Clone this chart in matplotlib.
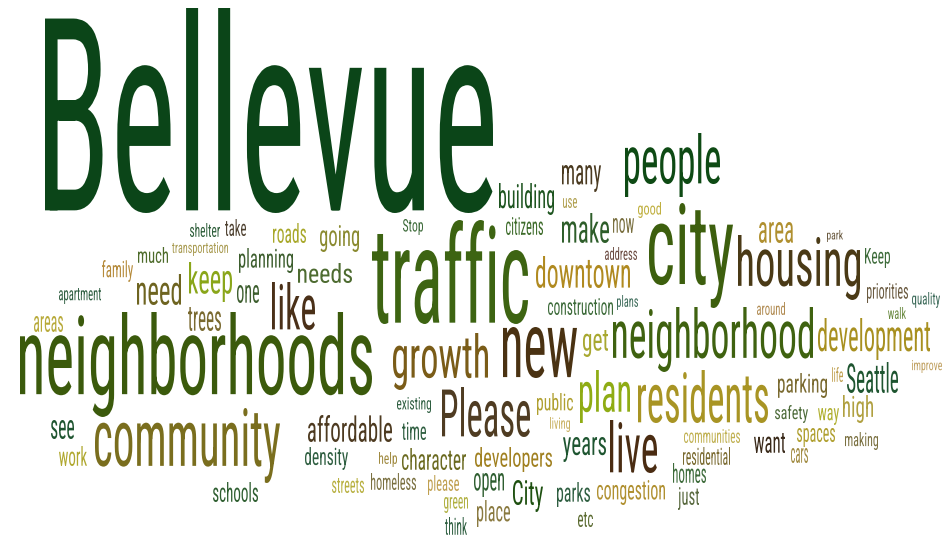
import matplotlib
matplotlib.use("Agg")
import matplotlib.pyplot as plt
from matplotlib.textpath import TextPath
from matplotlib.patches import PathPatch
from matplotlib.font_manager import FontProperties, findfont
from matplotlib.transforms import Affine2D

# words of the cloud and their colours
words = [
    "Bellevue", "traffic", "neighborhoods", "community", "city", "housing",
    "neighborhood", "people", "new", "growth", "Please", "residents",
    "development", "downtown", "live", "plan", "like", "keep", "need",
    "needs", "going", "planning", "roads", "one", "trees", "much", "family",
    "apartment", "areas", "shelter", "take", "transportation", "Stop",
    "building", "citizens", "many", "use", "make", "now", "good", "address",
    "construction", "plans", "area", "park", "Keep", "priorities", "quality",
    "walk", "around", "get", "existing", "affordable", "time", "public",
    "living", "years", "density", "help", "character", "developers",
    "streets", "homeless", "please", "open", "City", "parks", "congestion",
    "green", "place", "think", "etc", "see", "work", "schools", "parking",
    "life", "Seattle", "improve", "safety", "way", "high", "communities",
    "want", "spaces", "making", "residential", "cars", "homes", "just",
]

colors = [
    "#0b4518", "#3d6412", "#3b5a0c", "#7a6e1e", "#3d5f0e", "#4a3a16",
    "#3f6210", "#0e4a14", "#4a3212", "#7a5c18", "#4f3c22", "#a89424",
    "#a89020", "#b08a20", "#4a2c12", "#8fac14", "#4a3018", "#8aa61a", "#6e6420",
    "#4d6b30", "#8a8a30", "#3d5e2e", "#a8a82a", "#3d5e2e", "#7a6a30", "#4d6b2a", "#b58a3a",
    "#2e5e40", "#b8aa3a", "#2e5e3a", "#4d4030", "#a89a50", "#3d6b3a",
    "#1e5520", "#3d6b2a", "#4a3a20", "#b0a050", "#2e5e2a", "#7a7040", "#c0b040", "#6a4a40",
    "#3d6b3a", "#3d6b5a", "#b09030", "#6a5a40", "#3d6b3a", "#6a5a40", "#3d6b5a",
    "#6a8a40", "#b08a50", "#a8a830", "#2e5e40", "#4d3a20", "#2e5e40", "#b0a030",
    "#c8b060", "#1e5530", "#2e5e40", "#a08a40", "#6b6a20", "#a08020",
    "#b8b040", "#7a7040", "#c0a050", "#2e5e30", "#1e5010", "#2e5e40", "#b09030",
    "#b0b040", "#8a7a40", "#2e5e40", "#5a6a30", "#1e5530", "#b0a830", "#2e5e30", "#7a6a30",
    "#c0a050", "#1e5530", "#c0a060", "#4d6b3a", "#b0b030", "#b0a040", "#c0b050",
    "#3a2a1a", "#b0a030", "#7a7040", "#7a6a30", "#a08a40", "#3d6b3a", "#5a6a40",
]

# layout: ink box of each word in pixels (left, top, right, bottom)
boxes = [
    (45, 8, 493, 213), (372, 220, 528, 324), (20, 312, 372, 417), (95, 408, 280, 483),
    (649, 203, 733, 308), (738, 235, 860, 300), (613, 307, 813, 372), (625, 133, 720, 197),
    (503, 327, 577, 378), (393, 333, 488, 390), (442, 387, 530, 437), (638, 370, 768, 423),
    (818, 318, 930, 360), (536, 256, 630, 288), (610, 420, 657, 473), (580, 370, 630, 423),
    (272, 282, 315, 330), (189, 262, 232, 302), (137, 274, 181, 305),
    (298, 263, 352, 283), (320, 225, 359, 252), (239, 248, 293, 273), (273, 223, 306, 243),
    (237, 285, 259, 303), (188, 307, 221, 331), (138, 247, 168, 263), (102, 260, 133, 282),
    (59, 288, 101, 304), (34, 316, 63, 332), (190, 223, 220, 237), (225, 219, 246, 236),
    (172, 242, 228, 256), (403, 219, 423, 235),
    (499, 183, 554, 215), (506, 217, 543, 235), (562, 165, 601, 192), (563, 198, 577, 208),
    (562, 213, 609, 243), (613, 218, 634, 233), (638, 202, 661, 218), (605, 247, 637, 260),
    (548, 298, 613, 315), (617, 295, 638, 310), (759, 222, 793, 243), (827, 230, 843, 242),
    (865, 248, 890, 268), (867, 283, 908, 303), (912, 292, 940, 308),
    (888, 307, 906, 319), (757, 302, 785, 315), (583, 330, 608, 357), (397, 397, 431, 413),
    (308, 415, 392, 442), (402, 422, 426, 440), (537, 393, 573, 415),
    (550, 417, 570, 432), (563, 437, 606, 462), (305, 447, 348, 470), (379, 452, 397, 467),
    (402, 448, 466, 470), (475, 447, 552, 472),
    (332, 478, 364, 493), (371, 473, 416, 490), (428, 475, 459, 495), (474, 473, 504, 497),
    (513, 480, 543, 512), (557, 482, 590, 507), (597, 480, 665, 505),
    (444, 497, 468, 513), (477, 500, 510, 527), (445, 517, 467, 535), (578, 512, 593, 527),
    (51, 420, 74, 439), (59, 446, 87, 466), (213, 482, 258, 502), (778, 373, 827, 398),
    (832, 367, 843, 382), (847, 362, 898, 393), (912, 360, 942, 373), (775, 405, 808, 423),
    (818, 408, 839, 425), (843, 395, 873, 423), (684, 429, 740, 443),
    (754, 433, 785, 453), (797, 428, 835, 447), (845, 432, 878, 450), (683, 447, 730, 465),
    (791, 448, 808, 463), (673, 463, 706, 483), (678, 487, 699, 510),
]

# pick a narrow face if there is one
fp = None
for fam in ["Liberation Sans Narrow", "DejaVu Sans Condensed", "Roboto Condensed"]:
    try:
        findfont(FontProperties(family=fam), fallback_to_default=False)
        fp = FontProperties(family=fam)
        break
    except ValueError:
        pass
if fp is None:
    fp = FontProperties(family="DejaVu Sans")

fig = plt.figure(figsize=(9.45, 5.35), dpi=100)
ax = fig.add_axes([0, 0, 1, 1])
ax.set_xlim(0, 945)
ax.set_ylim(535, 0)
ax.axis("off")

for word, col, (x0, y0, x1, y1) in zip(words, colors, boxes):
    tp = TextPath((0, 0), word, size=100, prop=fp)
    ext = tp.get_extents()
    sx = (x1 - x0) / ext.width
    sy = (y1 - y0) / ext.height
    tr = Affine2D().translate(-ext.x0, -ext.y1).scale(sx, -sy).translate(x0, y0)
    ax.add_patch(PathPatch(tr.transform_path(tp), facecolor=col, lw=0))

fig.savefig("out.png", dpi=100, facecolor="white")
